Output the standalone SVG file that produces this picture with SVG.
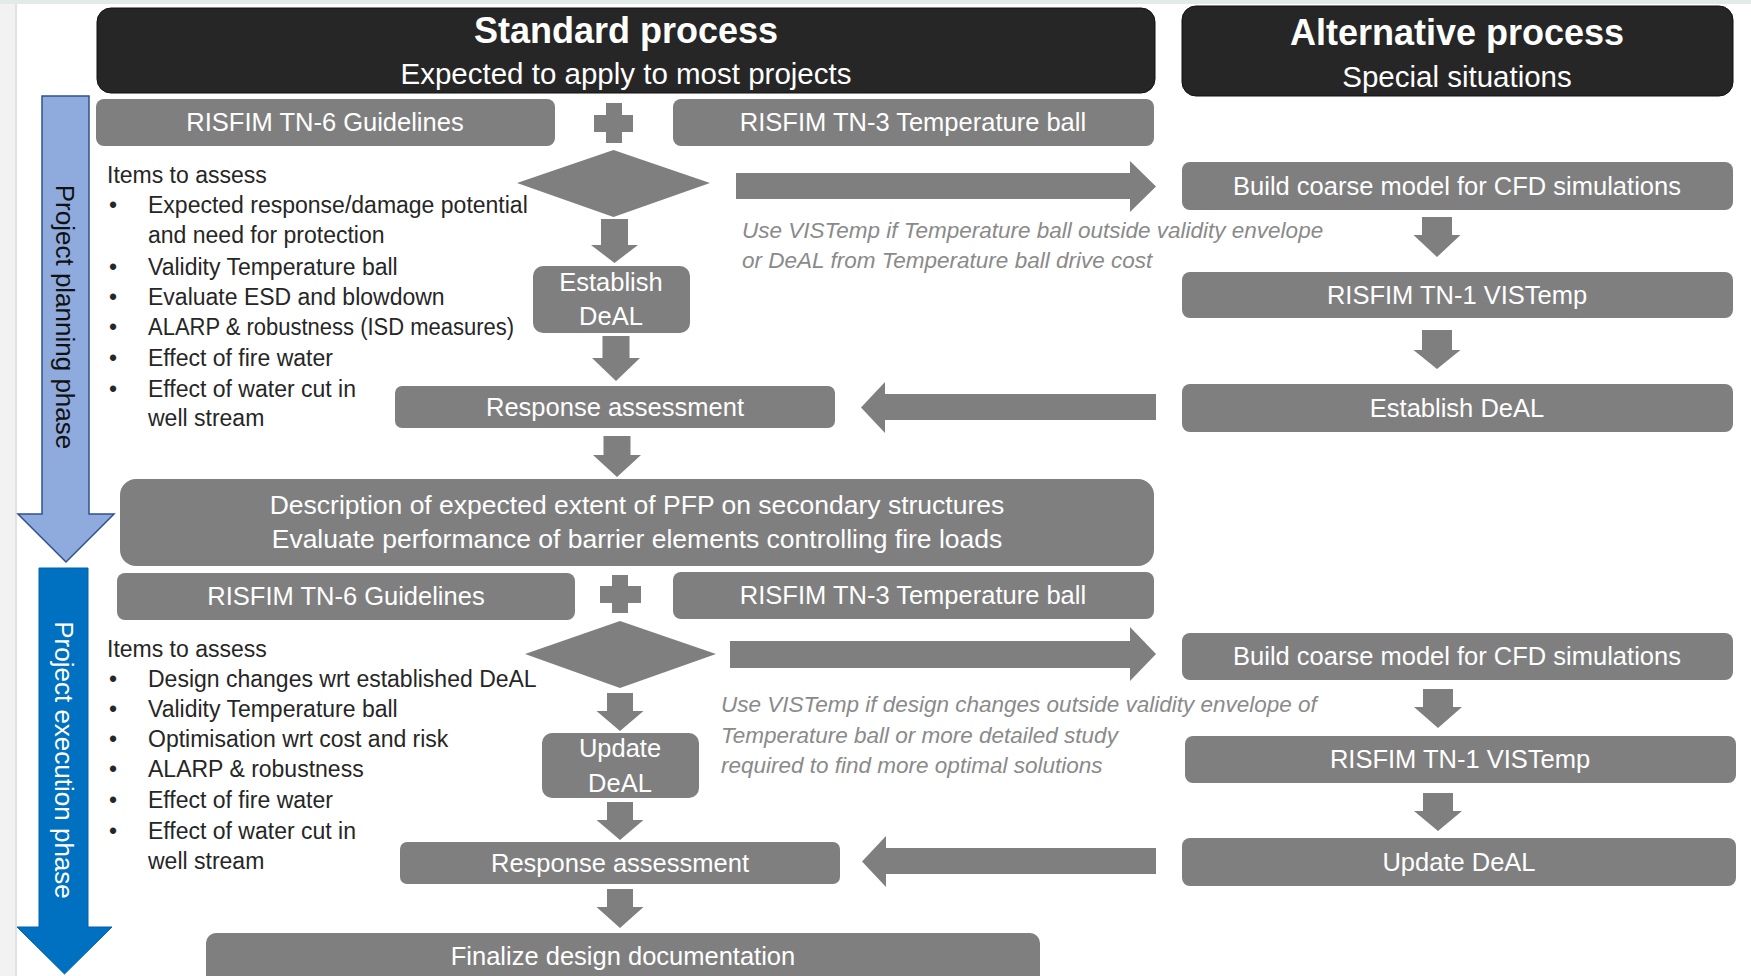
<svg xmlns="http://www.w3.org/2000/svg" width="1751" height="976" viewBox="0 0 1751 976">
<style>
.hdr{fill:#262626;stroke:#111;stroke-width:1}
.box{fill:#7f7f7f}
.arw{fill:#7f7f7f}
.ht{font-family:"Liberation Sans",Arial,sans-serif;font-weight:bold;font-size:36px;fill:#fff;text-anchor:middle}
.hs{font-family:"Liberation Sans",Arial,sans-serif;font-size:29.5px;fill:#fff;text-anchor:middle}
.bt{font-family:"Liberation Sans",Arial,sans-serif;font-size:25.5px;fill:#fff;text-anchor:middle}
.bd{font-family:"Liberation Sans",Arial,sans-serif;font-size:26.5px;fill:#fff;text-anchor:middle}
.it{font-family:"Liberation Sans",Arial,sans-serif;font-size:23px;fill:#262626}
.note{font-family:"Liberation Sans",Arial,sans-serif;font-size:22.5px;font-style:italic;fill:#8a8a8a}
.ph{font-family:"Liberation Sans",Arial,sans-serif;font-size:26px;text-anchor:middle}
</style>
<rect x="0" y="0" width="1751" height="976" fill="#fff"/>
<rect x="0" y="0" width="16" height="976" fill="#f2f2f2"/>
<rect x="15" y="0" width="2" height="976" fill="#e2e2e2"/>
<rect x="0" y="0" width="1751" height="4" fill="#e3ebe6"/>

<g id="phase-planning">
<polygon points="42,96 89,96 89,514 114,514 66,562 18,514 42,514" fill="#8faadc" stroke="#2f528f" stroke-width="1.5"/>
<text class="ph" fill="#111" transform="translate(56,317) rotate(90)">Project planning phase</text>
</g>
<g id="phase-execution">
<polygon points="39,568 88,568 88,927 112,927 64.5,974 17,927 39,927" fill="#0070c0" stroke="#0063ad" stroke-width="1"/>
<text class="ph" fill="#fff" transform="translate(55,760) rotate(90)">Project execution phase</text>
</g>

<g id="hdr-standard">
<rect class="hdr" x="97" y="8" width="1058" height="85" rx="14"/>
<text class="ht" x="626" y="43">Standard process</text>
<text class="hs" x="626" y="84">Expected to apply to most projects</text>
</g>
<g id="hdr-alternative">
<rect class="hdr" x="1182" y="6" width="551" height="90" rx="14"/>
<text class="ht" x="1457" y="45">Alternative process</text>
<text class="hs" x="1457" y="87">Special situations</text>
</g>

<g id="connectors">
<polygon class="arw" points="606,103 622,103 622,115 633,115 633,132 622,132 622,143 606,143 606,132 594,132 594,115 606,115"/>
<polygon class="arw" points="612,575 628,575 628,586 641,586 641,603 628,603 628,613 612,613 612,603 600,603 600,586 612,586"/>
<polygon class="arw" points="736,173 1130,173 1130,161 1156,186.5 1130,212 1130,199 736,199"/>
<polygon class="arw" points="730,641 1130,641 1130,627 1156,654 1130,681 1130,668 730,668"/>
<polygon class="arw" points="1156,394 885,394 885,382 861,407.5 885,433 885,420 1156,420"/>
<polygon class="arw" points="1156,848 886,848 886,836 862,861.5 886,887 886,874 1156,874"/>
<polygon class="arw" points="601,219 628,219 628,245 638,245 614.5,263 591,245 601,245"/>
<polygon class="arw" points="602.5,336 629.5,336 629.5,358 640,358 616,381 592,358 602.5,358"/>
<polygon class="arw" points="603.5,436 630.5,436 630.5,455 641,455 617,477 593,455 603.5,455"/>
<polygon class="arw" points="1422,217 1452,217 1452,235 1460.5,235 1437,257 1413.5,235 1422,235"/>
<polygon class="arw" points="1422,330 1452,330 1452,350 1460.5,350 1437,369 1413.5,350 1422,350"/>
<polygon class="arw" points="607,693 633,693 633,711 643.5,711 620,731 596.5,711 607,711"/>
<polygon class="arw" points="607,802 633,802 633,820 643.5,820 620,840 596.5,820 607,820"/>
<polygon class="arw" points="607,889 633,889 633,907 643.5,907 620,928 596.5,907 607,907"/>
<polygon class="arw" points="1423,689 1453,689 1453,707 1462,707 1438,728 1414,707 1423,707"/>
<polygon class="arw" points="1423,793 1453,793 1453,811 1462,811 1438,831 1414,811 1423,811"/>
</g>

<g id="tn6-1"><rect class="box" x="96" y="99" width="459" height="47" rx="8"/><text class="bt" x="325" y="131">RISFIM TN-6 Guidelines</text></g>
<g id="tn3-1"><rect class="box" x="673" y="99" width="481" height="47" rx="8"/><text class="bt" x="913" y="131">RISFIM TN-3 Temperature ball</text></g>
<g id="decision-1"><polygon class="box" points="517,183 613.5,150 710,183 613.5,217"/></g>
<g id="items-1">
<text class="it" x="107" y="183">Items to assess</text>
<text class="it" x="109" y="213">•</text><text class="it" x="148" y="213">Expected response/damage potential</text>
<text class="it" x="148" y="243">and need for protection</text>
<text class="it" x="109" y="275">•</text><text class="it" x="148" y="275">Validity Temperature ball</text>
<text class="it" x="109" y="305">•</text><text class="it" x="148" y="305">Evaluate ESD and blowdown</text>
<text class="it" x="109" y="335">•</text><text class="it" x="148" y="335" textLength="366" lengthAdjust="spacingAndGlyphs">ALARP &amp; robustness (ISD measures)</text>
<text class="it" x="109" y="366">•</text><text class="it" x="148" y="366">Effect of fire water</text>
<text class="it" x="109" y="397">•</text><text class="it" x="148" y="397">Effect of water cut in</text>
<text class="it" x="148" y="426">well stream</text>
</g>
<g id="establish-deal-1"><rect class="box" x="533" y="266" width="157" height="67" rx="10"/><text class="bt" x="611" y="291">Establish</text><text class="bt" x="611" y="325">DeAL</text></g>
<g id="response-1"><rect class="box" x="395" y="386" width="440" height="42" rx="7"/><text class="bt" x="615" y="416">Response assessment</text></g>
<g id="build-1"><rect class="box" x="1182" y="162" width="551" height="48" rx="8"/><text class="bt" x="1457" y="195">Build coarse model for CFD simulations</text></g>
<g id="note-1">
<text class="note" x="742" y="238">Use VISTemp if Temperature ball outside validity envelope</text>
<text class="note" x="742" y="268">or DeAL from Temperature ball drive cost</text>
</g>
<g id="tn1-1"><rect class="box" x="1182" y="272" width="551" height="46" rx="8"/><text class="bt" x="1457" y="304">RISFIM TN-1 VISTemp</text></g>
<g id="establish-deal-alt"><rect class="box" x="1182" y="384" width="551" height="48" rx="8"/><text class="bt" x="1457" y="417">Establish DeAL</text></g>
<g id="description"><rect class="box" x="120" y="479" width="1034" height="87" rx="16"/>
<text class="bd" x="637" y="514">Description of expected extent of PFP on secondary structures</text>
<text class="bd" x="637" y="548">Evaluate performance of barrier elements controlling fire loads</text></g>

<g id="tn6-2"><rect class="box" x="117" y="573" width="458" height="47" rx="8"/><text class="bt" x="346" y="605">RISFIM TN-6 Guidelines</text></g>
<g id="tn3-2"><rect class="box" x="673" y="572" width="481" height="47" rx="8"/><text class="bt" x="913" y="604">RISFIM TN-3 Temperature ball</text></g>
<g id="decision-2"><polygon class="box" points="525,654 620,621 716,654 620,688"/></g>
<g id="items-2">
<text class="it" x="107" y="657">Items to assess</text>
<text class="it" x="109" y="687">•</text><text class="it" x="148" y="687">Design changes wrt established DeAL</text>
<text class="it" x="109" y="717">•</text><text class="it" x="148" y="717">Validity Temperature ball</text>
<text class="it" x="109" y="747">•</text><text class="it" x="148" y="747">Optimisation wrt cost and risk</text>
<text class="it" x="109" y="777">•</text><text class="it" x="148" y="777">ALARP &amp; robustness</text>
<text class="it" x="109" y="808">•</text><text class="it" x="148" y="808">Effect of fire water</text>
<text class="it" x="109" y="839">•</text><text class="it" x="148" y="839">Effect of water cut in</text>
<text class="it" x="148" y="869">well stream</text>
</g>
<g id="update-deal-1"><rect class="box" x="542" y="733" width="157" height="65" rx="10"/><text class="bt" x="620" y="757">Update</text><text class="bt" x="620" y="792">DeAL</text></g>
<g id="response-2"><rect class="box" x="400" y="842" width="440" height="42" rx="7"/><text class="bt" x="620" y="872">Response assessment</text></g>
<g id="finalize"><rect class="box" x="206" y="933" width="834" height="60" rx="10"/><text class="bt" x="623" y="965">Finalize design documentation</text></g>
<g id="build-2"><rect class="box" x="1182" y="633" width="551" height="47" rx="8"/><text class="bt" x="1457" y="665">Build coarse model for CFD simulations</text></g>
<g id="note-2">
<text class="note" x="721" y="712">Use VISTemp if design changes outside validity envelope of</text>
<text class="note" x="721" y="743">Temperature ball or more detailed study</text>
<text class="note" x="721" y="773">required to find more optimal solutions</text>
</g>
<g id="tn1-2"><rect class="box" x="1185" y="736" width="551" height="47" rx="8"/><text class="bt" x="1460" y="768">RISFIM TN-1 VISTemp</text></g>
<g id="update-deal-alt"><rect class="box" x="1182" y="838" width="554" height="48" rx="8"/><text class="bt" x="1459" y="871">Update DeAL</text></g>
</svg>
